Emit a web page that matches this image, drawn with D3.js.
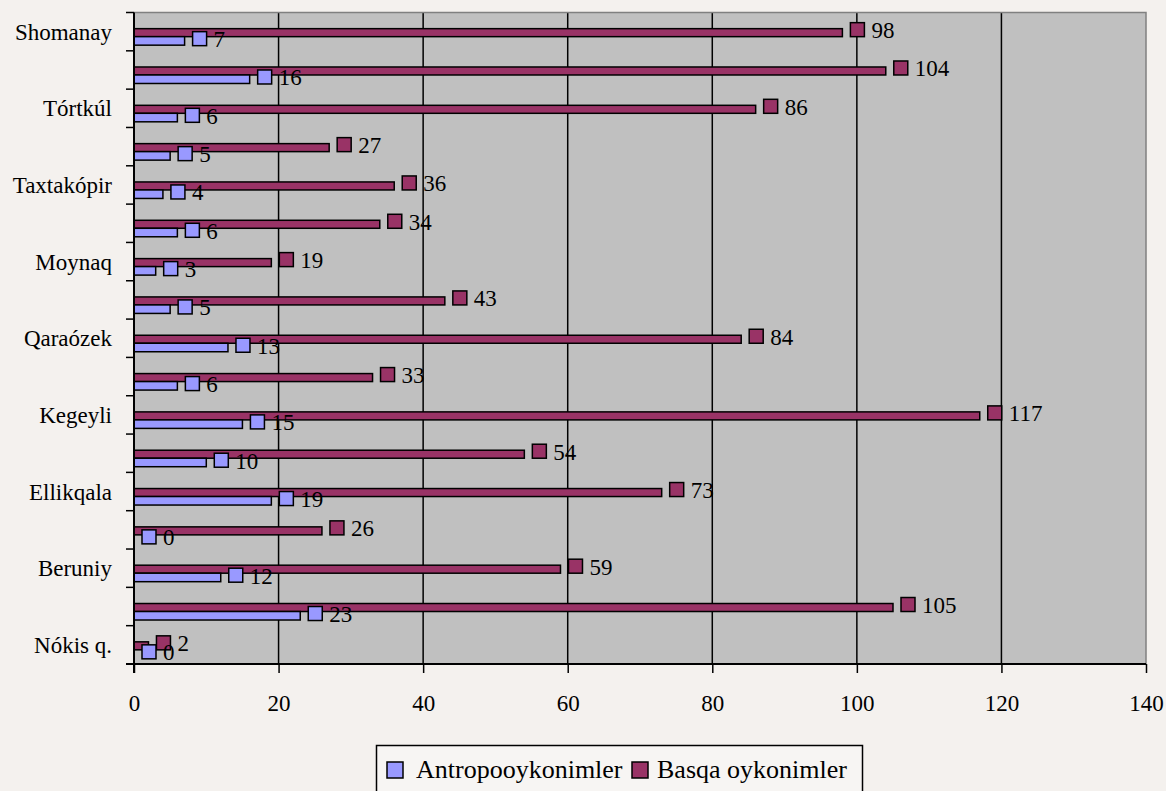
<!DOCTYPE html>
<html>
<head>
<meta charset="utf-8">
<script src="https://cdn.jsdelivr.net/npm/d3@7"></script>
<style>
  html, body { margin: 0; padding: 0; background: #f4f1ee; }
  svg { display: block; }
</style>
</head>
<body>
<svg id="chart" width="1166" height="791"></svg>
<script>
// ---- data (top to bottom) ----
const categoryLabels = ["Shomanay", "", "Tórtkúl", "", "Taxtakópir", "", "Moynaq", "", "Qaraózek", "", "Kegeyli", "", "Ellikqala", "", "Beruniy", "", "Nókis q."];
const antropo = [7, 16, 6, 5, 4, 6, 3, 5, 13, 6, 15, 10, 19, 0, 12, 23, 0];
const basqa   = [98, 104, 86, 27, 36, 34, 19, 43, 84, 33, 117, 54, 73, 26, 59, 105, 2];
const xTicks  = [0, 20, 40, 60, 80, 100, 120, 140];
const seriesNames = ["Antropooykonimler", "Basqa oykonimler"];

const colors = { antropo: "#9999ff", basqa: "#993366" };
const FONT = "'Liberation Serif', 'Times New Roman', serif";

const svg = d3.select("#chart");

svg.append("rect").attr("width", 1166).attr("height", 791).attr("fill", "#f4f1ee");

const pLeft = 134, pRight = 1146, pTop = 12.5, pBottom = 664;
const x = d3.scaleLinear().domain([0, 140]).range([pLeft, pRight]);
const y = d3.scaleBand().domain(d3.range(categoryLabels.length)).range([pTop, pBottom]).paddingInner(0).paddingOuter(0);
const bw = y.bandwidth();
const cy = i => y(i) + bw / 2;

// plot area
svg.append("rect")
  .attr("x", pLeft).attr("y", pTop).attr("width", pRight - pLeft).attr("height", pBottom - pTop)
  .attr("fill", "#c0c0c0");

// gridlines
svg.append("g").selectAll("line").data(xTicks.filter(t => t > 0 && t < 140)).join("line")
  .attr("x1", d => x(d)).attr("x2", d => x(d))
  .attr("y1", pTop).attr("y2", pBottom)
  .attr("stroke", "#000").attr("stroke-width", 1.5);

// plot border top/right (gray)
svg.append("path")
  .attr("d", `M${pLeft},${pTop}H${pRight}V${pBottom}`)
  .attr("fill", "none").attr("stroke", "#808080").attr("stroke-width", 1.5);

// bars
const gBars = svg.append("g");
gBars.selectAll("rect.basqa").data(basqa).join("rect")
  .attr("class", "basqa")
  .attr("x", x(0)).attr("y", (d, i) => cy(i) - 3)
  .attr("width", d => x(d) - x(0)).attr("height", 8)
  .attr("fill", colors.basqa).attr("stroke", "#000").attr("stroke-width", 1.5);
gBars.selectAll("rect.antropo").data(antropo).join("rect")
  .attr("class", "antropo")
  .attr("x", x(0)).attr("y", (d, i) => cy(i) + 5)
  .attr("width", d => x(d) - x(0)).attr("height", 8.5)
  .attr("fill", colors.antropo).attr("stroke", "#000").attr("stroke-width", 1.5);

// axes
const xAxis = d3.axisBottom(x).tickValues(xTicks).tickSize(9).tickPadding(22).tickFormat(d3.format("d"));
const gx = svg.append("g").attr("transform", `translate(0,${pBottom})`).call(xAxis);
gx.select(".domain").attr("stroke", "#000").attr("stroke-width", 2).attr("d", `M${pLeft - 8},0H${pRight}`);
gx.selectAll(".tick line").attr("stroke", "#000").attr("stroke-width", 1.5);
gx.selectAll(".tick text").attr("font-family", FONT).attr("font-size", 23).attr("fill", "#000");

// y axis: ticks at band boundaries
const gy = svg.append("g");
gy.append("line").attr("x1", pLeft).attr("x2", pLeft).attr("y1", pTop).attr("y2", pBottom + 9)
  .attr("stroke", "#000").attr("stroke-width", 2);
gy.selectAll("line.tk").data(d3.range(categoryLabels.length + 1)).join("line")
  .attr("class", "tk")
  .attr("x1", pLeft - 8).attr("x2", pLeft)
  .attr("y1", d => pTop + d * bw).attr("y2", d => pTop + d * bw)
  .attr("stroke", "#000").attr("stroke-width", 1.5);
gy.selectAll("text").data(categoryLabels).join("text")
  .attr("x", 112).attr("y", (d, i) => cy(i) + 8)
  .attr("text-anchor", "end")
  .attr("font-family", FONT).attr("font-size", 23).attr("fill", "#000")
  .text(d => d);

// data labels with legend keys
function labels(data, color, dy) {
  const g = svg.append("g");
  g.selectAll("rect").data(data).join("rect")
    .attr("x", d => x(d) + 8).attr("y", (d, i) => cy(i) + dy - 7)
    .attr("width", 14).attr("height", 14)
    .attr("fill", color).attr("stroke", "#000").attr("stroke-width", 1.5);
  g.selectAll("text").data(data).join("text")
    .attr("x", d => x(d) + 29).attr("y", (d, i) => cy(i) + dy + 8.5)
    .attr("font-family", FONT).attr("font-size", 23).attr("fill", "#000")
    .text(d => d);
}
labels(basqa, colors.basqa, -2);
labels(antropo, colors.antropo, 7);

// legend
const lg = svg.append("g");
lg.append("rect").attr("x", 376.5).attr("y", 745.5).attr("width", 486).attr("height", 70)
  .attr("fill", "#f7f5f3").attr("stroke", "#000").attr("stroke-width", 1.5);
const legendItems = [
  { name: seriesNames[0], color: colors.antropo, kx: 387, tx: 416 },
  { name: seriesNames[1], color: colors.basqa, kx: 632, tx: 657 }
];
lg.selectAll("rect.key").data(legendItems).join("rect")
  .attr("class", "key")
  .attr("x", d => d.kx).attr("y", 762).attr("width", 16).attr("height", 16)
  .attr("fill", d => d.color).attr("stroke", "#000").attr("stroke-width", 1.5);
lg.selectAll("text").data(legendItems).join("text")
  .attr("x", d => d.tx).attr("y", 778)
  .attr("font-family", FONT).attr("font-size", 26).attr("fill", "#000")
  .text(d => d.name);
</script>
</body>
</html>
